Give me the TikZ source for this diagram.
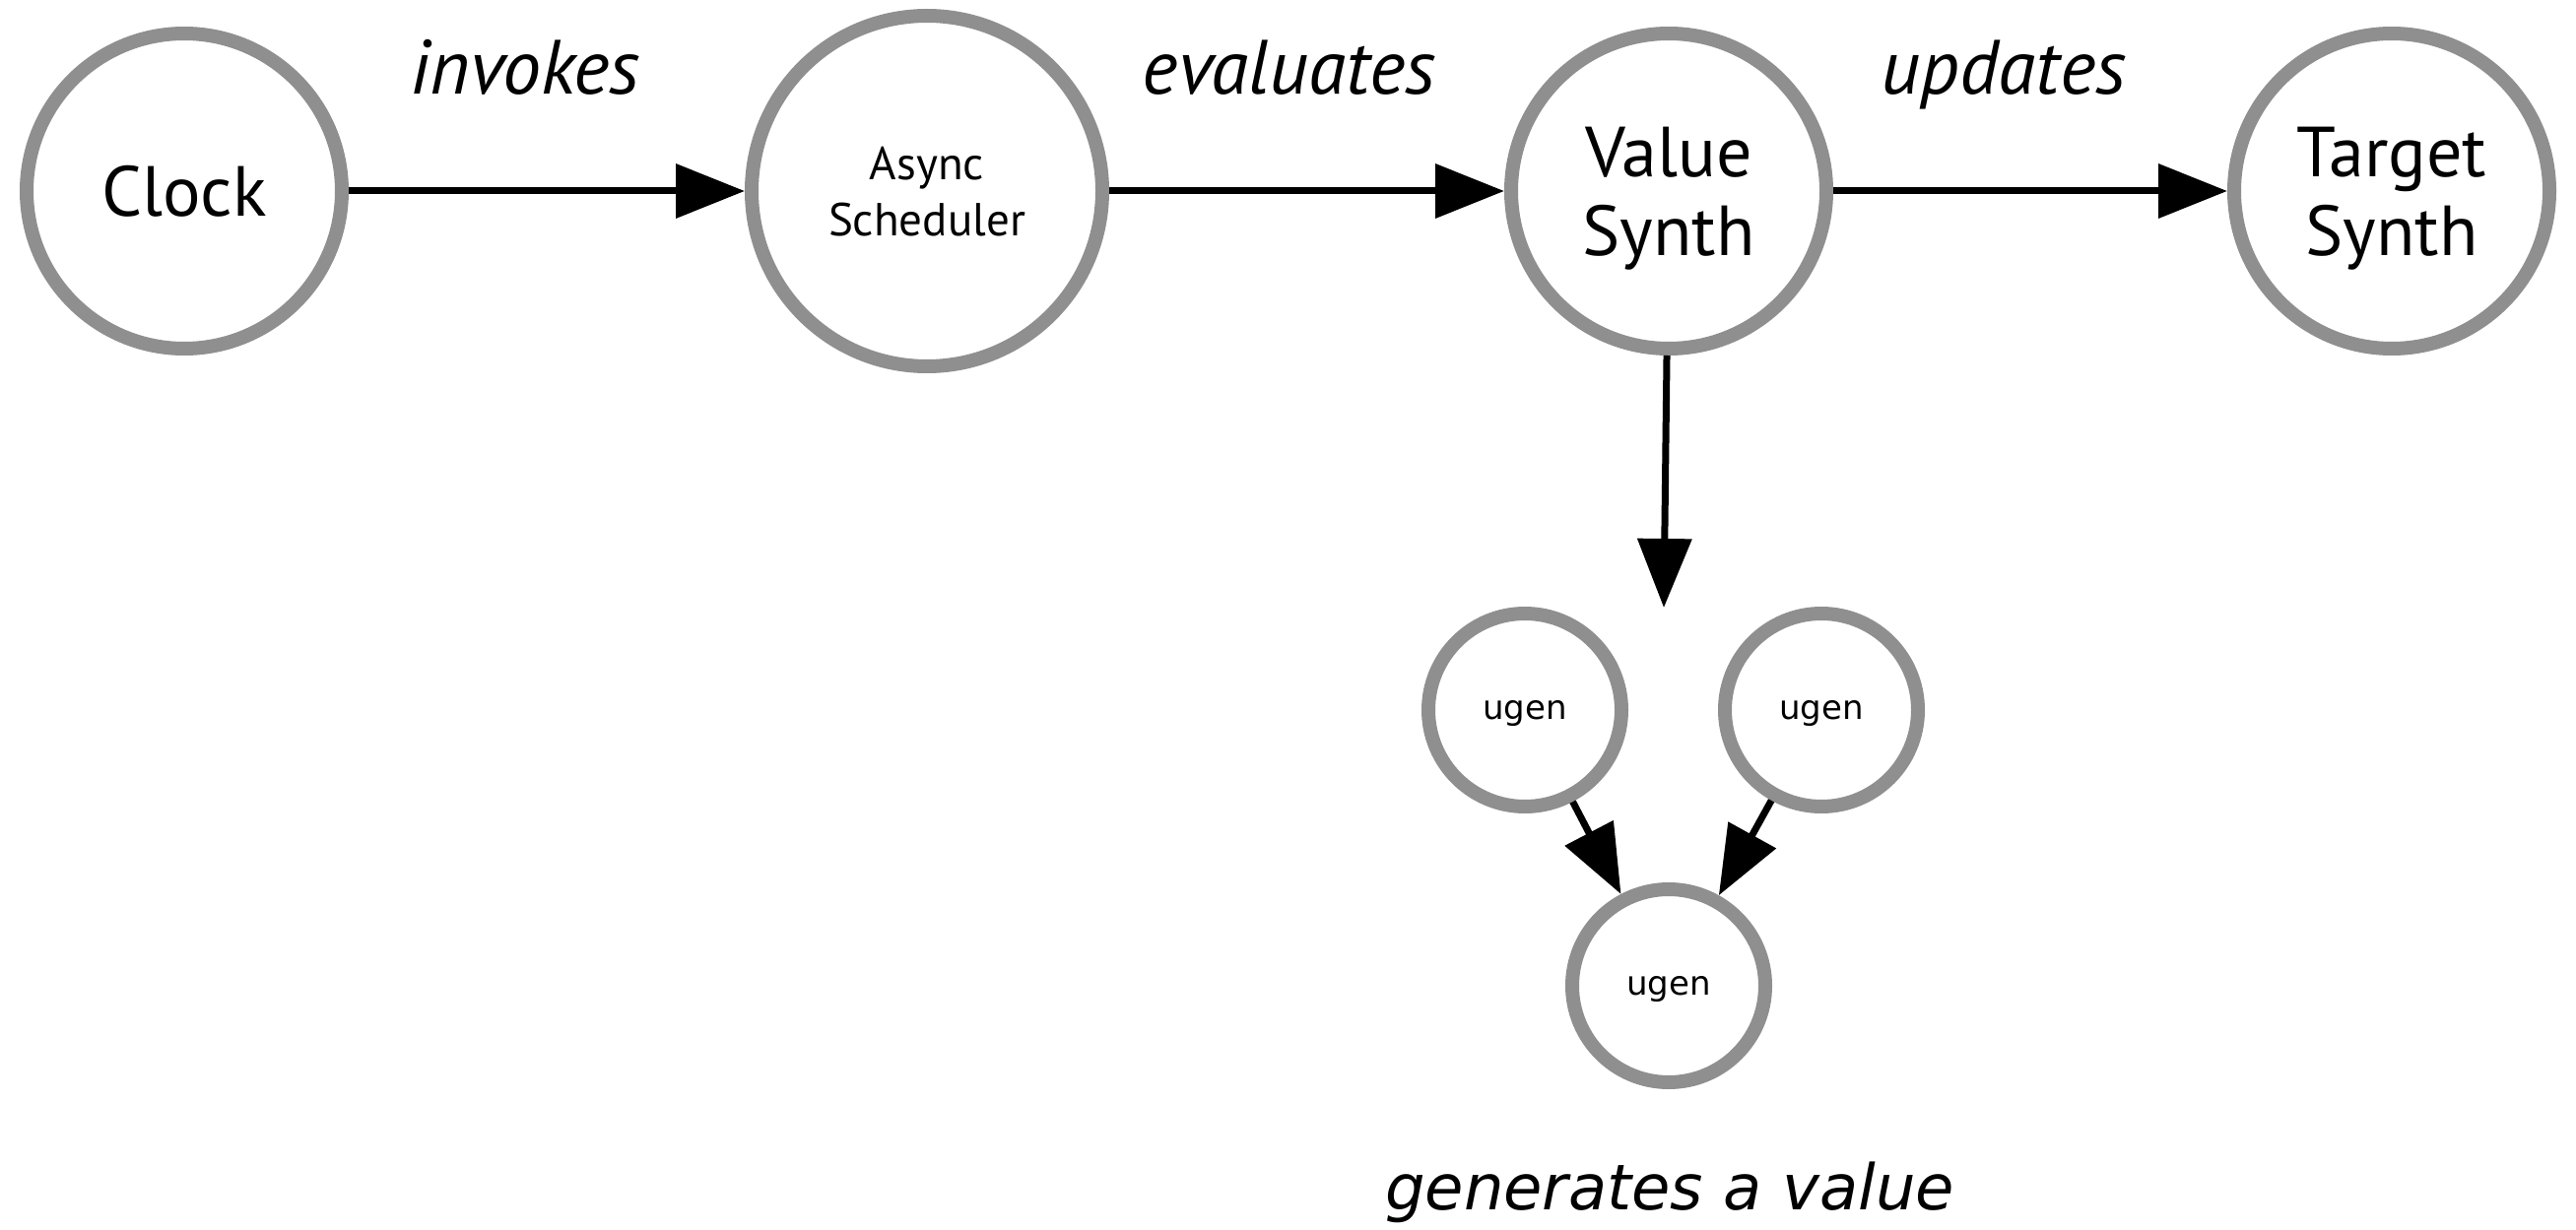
\documentclass[tikz,border=0pt]{standalone}
\usepackage{fontspec}
\setmainfont{PT Sans}
\newfontfamily\dvs{DejaVu Sans}
\usetikzlibrary{arrows.meta}
\definecolor{ringgray}{RGB}{143,143,143}
\begin{document}
\begin{tikzpicture}[x=1pt,y=-1pt,
  ring/.style={circle,draw=ringgray,line width=14pt,inner sep=0pt,align=center,fill=white},
  bigring/.style={ring,minimum size=320pt,text depth=0pt,font=\fontsize{72}{80}\selectfont},
  midring/.style={ring,minimum size=356pt,text depth=0pt,font=\fontsize{47}{57}\selectfont},
  ugenring/.style={ring,minimum size=196pt,text depth=0pt,font=\dvs\fontsize{34}{38}\selectfont},
  conn/.style={line width=7pt,-{Triangle[length=70pt,width=54pt]}},
  lbl/.style={anchor=base,font=\fontsize{78}{86}\selectfont\itshape}]
\useasboundingbox (0,0) rectangle (2615,1249);
\node[bigring] (clock) at (187,194) {Clock};
\node[midring] (async) at (941,194) {Async\\Scheduler};
\node[bigring] (value) at (1694,194) {Value\\Synth};
\node[bigring] (target) at (2428,194) {Target\\Synth};
\node[ugenring] (ul) at (1548,721) {ugen};
\node[ugenring] (ur) at (1849,721) {ugen};
\node[ugenring] (ub) at (1694,1001) {ugen};
\coordinate (vend) at (1689,617);
\draw[conn] (clock) -- (async);
\draw[conn] (async) -- (value);
\draw[conn] (value) -- (target);
\draw[conn] (value) -- (vend);
\draw[conn] (ul) -- (ub);
\draw[conn] (ur) -- (ub);
\node[lbl] (linv) at (533,96) {invokes};
\node[lbl] (leval) at (1309,96) {evaluates};
\node[lbl] (lupd) at (2034,96) {updates};
\node[anchor=base,font=\dvs\fontsize{64}{70}\selectfont\itshape] (lgen) at (1695,1228) {generates a value};
\end{tikzpicture}
\end{document}
